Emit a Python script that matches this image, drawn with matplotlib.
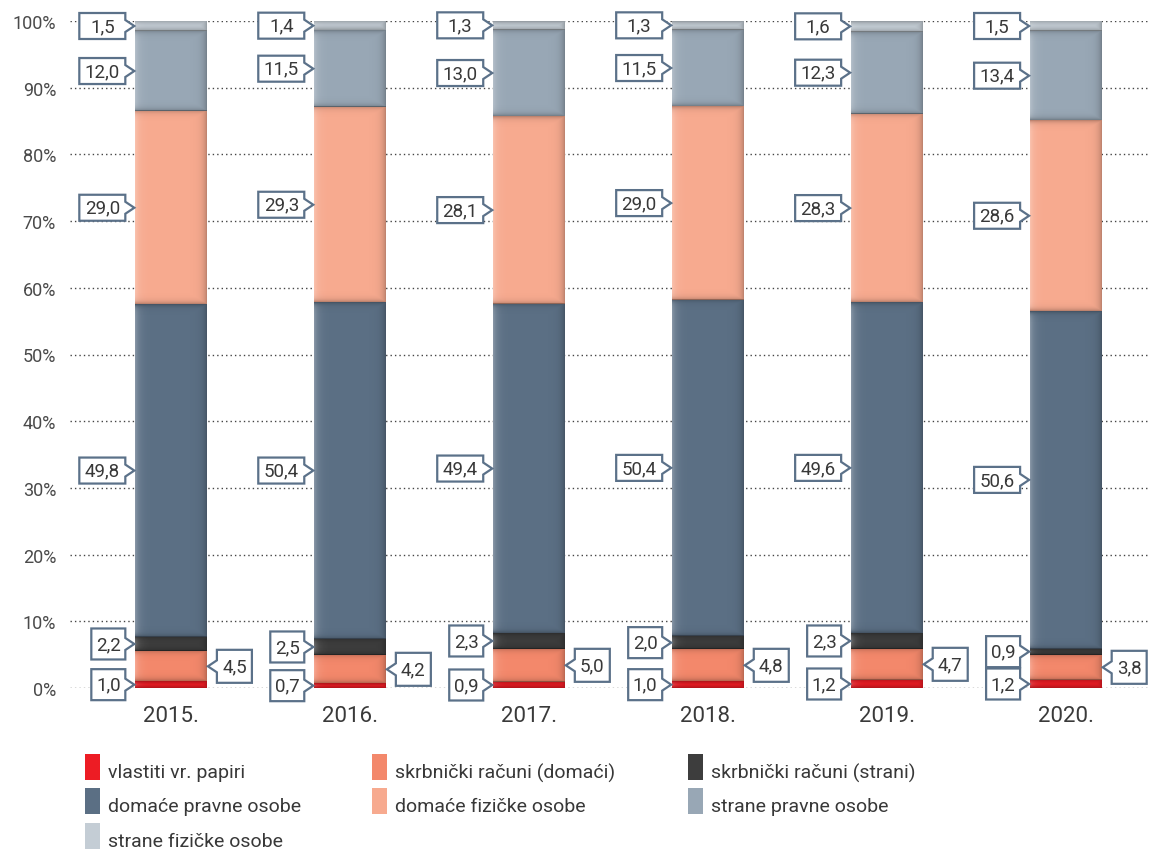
import numpy as np
import matplotlib
matplotlib.use('Agg')
import matplotlib.pyplot as plt
import matplotlib.transforms as mtransforms
from matplotlib.patches import Polygon, Rectangle

plt.rcParams['font.family'] = ['Roboto', 'DejaVu Sans']

## podaci (udjeli u %)
godine = ['2015.', '2016.', '2017.', '2018.', '2019.', '2020.']
vlastiti = [1.0, 0.7, 0.9, 1.0, 1.2, 1.2]
skrb_domaci = [4.5, 4.2, 5.0, 4.8, 4.7, 3.8]
skrb_strani = [2.2, 2.5, 2.3, 2.0, 2.3, 0.9]
dom_pravne = [49.8, 50.4, 49.4, 50.4, 49.6, 50.6]
dom_fizicke = [29.0, 29.3, 28.1, 29.0, 28.3, 28.6]
str_pravne = [12.0, 11.5, 13.0, 11.5, 12.3, 13.4]
str_fizicke = [1.5, 1.4, 1.3, 1.3, 1.6, 1.5]

nazivi = ['vlastiti vr. papiri', 'skrbnički računi (domaći)', 'skrbnički računi (strani)',
          'domaće pravne osobe', 'domaće fizičke osobe', 'strane pravne osobe',
          'strane fizičke osobe']
boje = ['#ed1c24', '#f3886b', '#3d3d3d', '#5b6f84', '#f7aa8f', '#98a7b5', '#c4cdd5']

serije = [vlastiti, skrb_domaci, skrb_strani, dom_pravne, dom_fizicke, str_pravne, str_fizicke]
# strana oblačića: -1 lijevo od stupca, +1 desno
strane = [-1, 1, -1, -1, -1, -1, -1]
# mali oblačići (uži, viši) za donje segmente
mali = [True, True, True, False, False, False, False]

W, H = 1158, 853
fig = plt.figure(figsize=(W / 100, H / 100), dpi=100)
ax = fig.add_axes([70 / W, 164 / H, 1080 / W, 667 / H])

x = np.arange(len(godine))
sirina = 0.4
ax.set_xlim(-0.565, 5.47)
ax.set_ylim(0, 100)


def sjena(x0, x1, y0, y1):
    # meki rubovi stupca (tamniji gore/dolje i desno, svjetliji lijevo)
    (p0x, p0y), (p1x, p1y) = ax.transData.transform([(x0, y0), (x1, y1)])
    nx = max(int(round(p1x - p0x)), 2)
    ny = max(int(round(p1y - p0y)), 2)
    xx = np.arange(nx) + 0.5
    yy = np.arange(ny) + 0.5
    dy = np.minimum(yy, ny - yy)
    a_y = 0.28 * np.exp(-dy / 2.5)
    a_r = 0.25 * np.exp(-(nx - xx) / 4.0)
    a = np.maximum(a_y[:, None], a_r[None, :])
    tam = np.zeros((ny, nx, 4))
    tam[..., 3] = a
    svj = np.ones((ny, nx, 4))
    svj[..., 3] = 0.3 * np.exp(-xx / 4.0)[None, :] * (1 - a_y[:, None] / 0.28)
    for img in (svj, tam):
        ax.imshow(img, extent=(x0, x1, y0, y1), origin='lower', aspect='auto',
                  interpolation='bilinear', zorder=3)


dno = np.zeros(len(godine))
for vals, boja in zip(serije, boje):
    ax.bar(x, vals, sirina, bottom=dno, color=boja, linewidth=0, zorder=2)
    for i, v in enumerate(vals):
        sjena(x[i] - sirina / 2, x[i] + sirina / 2, dno[i], dno[i] + v)
    dno += np.array(vals)

ax.set_xlim(-0.565, 5.47)
ax.set_ylim(0, 100)
ax.set_yticks(np.arange(0, 101, 10))
ax.set_yticklabels(['%d%%' % v for v in range(0, 101, 10)], fontsize=13, color='#4a4a4a')
ax.set_xticks(x)
ax.set_xticklabels(godine, fontsize=16, color='#3a3a3a')
ax.tick_params(axis='both', length=0)
ax.tick_params(axis='y', pad=10)
ax.tick_params(axis='x', pad=12)
ax.yaxis.grid(True, linestyle=(0, (1, 2.2)), color='#444444', linewidth=1)
ax.set_axisbelow(True)
for s in ax.spines.values():
    s.set_visible(False)

px = fig.dpi / 100.0
rub = '#5b7189'


def oblacic(xa, ya, tekst, strana, mali_box):
    if mali_box:
        w, h = (34, 31) if strana < 0 else (35, 33)
    else:
        w, h = 46, 26
    g = 10  # razmak od vrha strelice do kutije
    n = 6   # pola visine strelice
    if strana < 0:
        verts = [(-g - w, -h / 2), (-g, -h / 2), (-g, -n), (-1, 0), (-g, n),
                 (-g, h / 2), (-g - w, h / 2)]
        cx = -g - w / 2
    else:
        verts = [(g + w, -h / 2), (g, -h / 2), (g, -n), (1, 0), (g, n),
                 (g, h / 2), (g + w, h / 2)]
        cx = g + w / 2
    tr = mtransforms.Affine2D().scale(px) + mtransforms.ScaledTranslation(xa, ya, ax.transData)
    ax.add_patch(Polygon(verts, closed=True, facecolor='white', edgecolor=rub,
                         linewidth=1.6, transform=tr, clip_on=False, zorder=5,
                         joinstyle='miter'))
    ax.annotate(tekst, xy=(xa, ya), xytext=(cx * px, 0), textcoords='offset pixels',
                ha='center', va='center', fontsize=13.5, color='#383838', zorder=6)


dno = np.zeros(len(godine))
for vals, strana, mb in zip(serije, strane, mali):
    for i, v in enumerate(vals):
        sred = dno[i] + v / 2
        xa = x[i] - sirina / 2 if strana < 0 else x[i] + sirina / 2
        oblacic(xa, sred, ('%.1f' % v).replace('.', ','), strana, mb)
    dno += np.array(vals)

## legenda
leg_x = [85, 372, 688]
leg_y = [773, 807, 842]
pozicije = [(0, 0), (1, 0), (2, 0), (0, 1), (1, 1), (2, 1), (0, 2)]
for naziv, boja, (c, r) in zip(nazivi, boje, pozicije):
    lx, ly = leg_x[c], leg_y[r]
    fig.add_artist(Rectangle((lx / W, (H - ly - 8) / H), 15 / W, 26 / H,
                             facecolor=boja, linewidth=0, transform=fig.transFigure))
    fig.text((lx + 23) / W, (H - ly) / H, naziv, fontsize=14, color='#383838',
             ha='left', va='center')

fig.savefig('out.png', dpi=100)
